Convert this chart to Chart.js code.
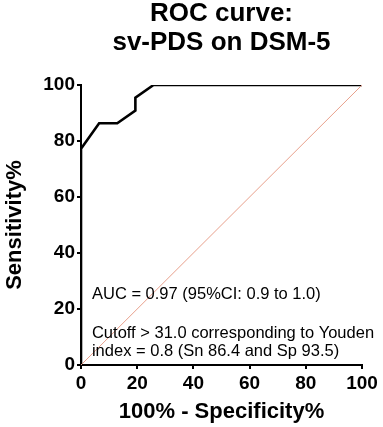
<!DOCTYPE html>
<html>
<head>
<meta charset="utf-8">
<script src="https://cdn.jsdelivr.net/npm/chart.js@4/dist/chart.umd.min.js"></script>
<style>
  html, body { margin: 0; padding: 0; background: #fff; }
  #wrap { width: 383px; height: 427px; position: relative; }
</style>
</head>
<body>
<div id="wrap"><canvas id="c"></canvas></div>
<script>
// ---- data ----
const titleLines = ['ROC curve:', 'sv-PDS on DSM-5'];
const xAxisTitle = '100% - Specificity%';
const yAxisTitle = 'Sensitivity%';
const fpr = [0, 0, 6.45, 12.9, 19.35, 19.35, 25.81, 100];          // 100% - Specificity%
const sensitivity = [0, 77.27, 86.36, 86.36, 90.91, 95.45, 100, 100];
const refX = [0, 100];
const refY = [0, 100];
const noteLines = [
  'AUC = 0.97 (95%CI: 0.9 to 1.0)',
  'Cutoff > 31.0 corresponding to Youden',
  'index = 0.8 (Sn 86.4 and Sp 93.5)'
];

const FONT = '"Liberation Sans", Arial, Helvetica, sans-serif';

const notesPlugin = {
  id: 'notes',
  afterDatasetsDraw(chart, args, opts) {
    const ctx = chart.ctx;
    const xs = chart.scales.x, ys = chart.scales.y;
    ctx.save();
    ctx.fillStyle = '#000';
    ctx.font = opts.size + 'px ' + FONT;
    ctx.textAlign = 'left';
    ctx.textBaseline = 'alphabetic';
    opts.lines.forEach((t, i) => {
      ctx.fillText(t, xs.getPixelForValue(opts.x), ys.getPixelForValue(opts.y[i]));
    });
    ctx.restore();
  }
};

new Chart(document.getElementById('c'), {
  type: 'line',
  data: {
    datasets: [
      {
        data: refX.map((x, i) => ({ x, y: refY[i] })),
        borderColor: '#e8a08c',
        borderWidth: 1,
        pointRadius: 0,
        tension: 0
      },
      {
        data: fpr.map((x, i) => ({ x, y: sensitivity[i] })),
        borderColor: '#000',
        borderWidth: 2.6,
        pointRadius: 0,
        tension: 0,
        borderJoinStyle: 'miter'
      }
    ]
  },
  options: {
    responsive: true,
    maintainAspectRatio: false,
    animation: false,
    devicePixelRatio: 1,
    layout: { padding: { top: 0, right: 21, bottom: 0, left: 0 } },
    plugins: {
      legend: { display: false },
      tooltip: { enabled: false },
      title: {
        display: true,
        text: titleLines,
        color: '#000',
        fullSize: false,
        font: { family: FONT, size: 26, weight: 'bold', lineHeight: 1.1 },
        padding: { top: 0, bottom: 27.8 }
      },
      notes: { lines: noteLines, x: 3.9, y: [23.5, 9.6, 3.2], size: 16.5 }
    },
    scales: {
      x: {
        type: 'linear',
        min: 0, max: 100,
        ticks: { stepSize: 20, color: '#000', padding: 3, maxRotation: 0,
                 font: { family: FONT, size: 19, weight: 'bold', lineHeight: 1.2 } },
        grid: { display: true, drawOnChartArea: false, drawTicks: true, tickLength: 4, color: '#000', lineWidth: 2 },
        border: { display: true, color: '#000', width: 2 },
        title: { display: true, text: xAxisTitle, color: '#000',
                 font: { family: FONT, size: 22, weight: 'bold', lineHeight: 1.2 },
                 padding: { top: 0, bottom: 2 } },
        afterFit: s => { s.height = 62; }
      },
      y: {
        type: 'linear',
        min: 0, max: 100,
        ticks: { stepSize: 20, color: '#000', padding: 2,
                 font: { family: FONT, size: 19, weight: 'bold', lineHeight: 1.2 } },
        grid: { display: true, drawOnChartArea: false, drawTicks: true, tickLength: 4, color: '#000', lineWidth: 2 },
        border: { display: true, color: '#000', width: 2 },
        title: { display: true, text: yAxisTitle, color: '#000',
                 font: { family: FONT, size: 22, weight: 'bold', lineHeight: 1.2 },
                 padding: { top: 2, bottom: 0 } },
        afterFit: s => { s.width = 81; }
      }
    }
  },
  plugins: [notesPlugin]
});
</script>
</body>
</html>
